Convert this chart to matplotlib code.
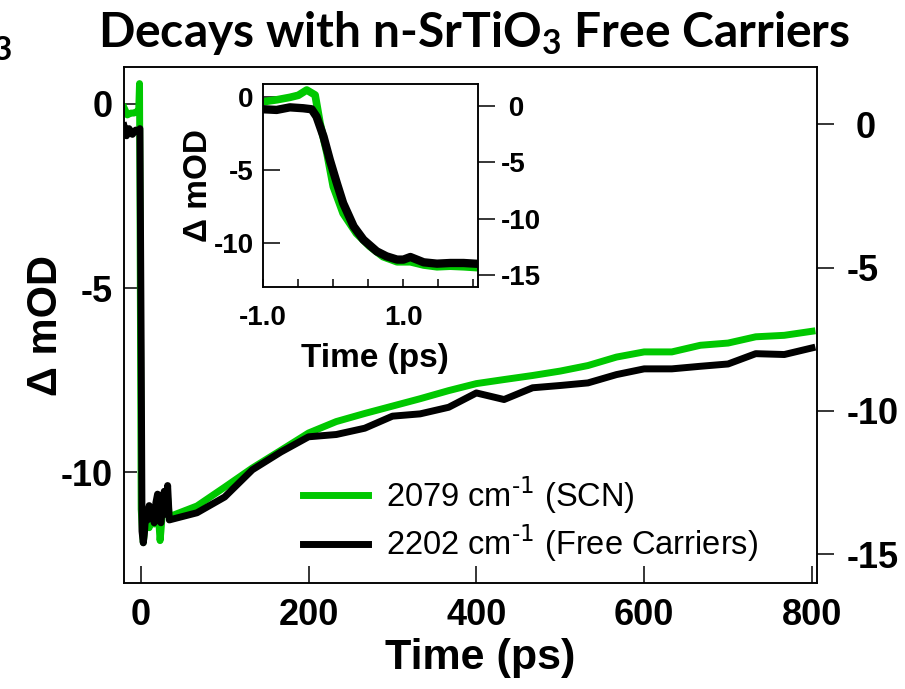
import matplotlib
matplotlib.use('Agg')
import matplotlib.pyplot as plt
from matplotlib.lines import Line2D

plt.rcParams['font.family'] = ['Liberation Sans', 'DejaVu Sans']
plt.rcParams['axes.unicode_minus'] = False
plt.rcParams['axes.linewidth'] = 1.1

GREEN = '#00c800'

# ---- long time window (ps) ----
# early part, sampled densely around time zero
t_scn_early = [-20, -16, -12, -8, -4, -2.5, -1.5, 0.5, 2, 3, 4, 5, 6, 8, 10, 12, 14, 16,
               18, 20, 22, 23, 24, 26, 28, 30, 32, 34]
scn_early = [-0.1, -0.3, -0.25, -0.25, -0.2, -0.2, 0.55, -11.0, -11.6, -11.9, -11.7, -11.3,
             -11.5, -11.2, -11.5, -11.3, -11.1, -11.4, -11.2, -11.0, -11.5, -11.85, -11.6,
             -11.0, -10.8, -11.1, -10.7, -11.2]

t_fc_early = [-20, -17, -14, -10, -6, -3, -1, 0.5, 1.5, 3, 4.5, 6, 8, 10, 12, 14, 16, 18,
              20, 22, 24, 26, 28, 30, 32, 34]
fc_early = [-0.05, -0.4, -0.15, -0.35, -0.2, -0.25, -0.15, -8.0, -14.2, -14.6, -14.2, -13.5,
            -13.8, -13.3, -13.6, -13.4, -13.9, -13.2, -12.9, -13.7, -13.9, -13.3, -12.8,
            -13.6, -12.6, -13.8]

# later part, one point every ~33 ps
t_late = [67, 100, 133, 167, 200, 233, 267, 300, 333, 367, 400, 433, 467, 500, 533, 567,
          600, 633, 667, 700, 733, 767, 800]
scn_late = [-10.91, -10.4, -9.88, -9.4, -8.93, -8.62, -8.4, -8.2, -8.0, -7.78, -7.59, -7.48,
            -7.37, -7.25, -7.1, -6.87, -6.73, -6.73, -6.55, -6.49, -6.32, -6.28, -6.17]
fc_late = [-13.55, -13.0, -12.05, -11.43, -10.9, -10.82, -10.6, -10.18, -10.1, -9.87, -9.37,
           -9.6, -9.19, -9.11, -9.02, -8.73, -8.53, -8.53, -8.44, -8.36, -8.0, -8.03, -7.8]

# ---- short time window for the inset (ps) ----
t_scn_short = [-1.0, -0.8, -0.62, -0.5, -0.38, -0.26, -0.19, -0.09, 0.0, 0.14, 0.33, 0.52,
               0.71, 0.91, 1.1, 1.29, 1.48, 1.67, 1.86, 2.02]
scn_short = [-0.34, -0.2, -0.04, 0.1, 0.46, 0.12, -1.8, -3.86, -6.13, -7.95, -9.31, -10.2,
             -10.9, -11.25, -11.25, -11.47, -11.59, -11.55, -11.59, -11.64]
t_fc_short = [-1.0, -0.81, -0.62, -0.43, -0.31, -0.24, -0.14, -0.05, 0.05, 0.14, 0.29, 0.43,
              0.62, 0.76, 0.91, 1.0, 1.1, 1.29, 1.48, 1.67, 1.86, 2.02]
fc_short = [-0.29, -0.35, -0.12, -0.2, -0.29, -0.94, -2.71, -4.77, -6.83, -8.6, -10.66,
            -11.84, -12.87, -13.31, -13.6, -13.6, -13.37, -13.84, -13.96, -13.9, -13.9, -13.96]

labels = ['2079 cm$^{\\text{-1}}$ (SCN)', '2202 cm$^{\\text{-1}}$ (Free Carriers)']
left_ticks = [0, -5, -10]
right_ticks = [0, -5, -10, -15]
right_ticklabels = [' 0', '-5', '-10', '-15']

W, H = 905, 689
fig = plt.figure(figsize=(W / 100, H / 100), dpi=100)

# main panel
ax = fig.add_axes([124 / W, 106 / H, 693 / W, 516 / H])
ax.plot(t_scn_early + t_late, scn_early + scn_late, color=GREEN, lw=5, solid_joinstyle='round')
ax.set_xlim(-20, 806)
ax.set_ylim(-13, 1)
ax.set_xticks([0, 200, 400, 600, 800])
ax.set_yticks(left_ticks)
ax.tick_params(axis='x', direction='in', length=12, width=1.1, pad=11, labelsize=26)
ax.tick_params(axis='y', direction='in', length=9, width=1.1, pad=8, labelsize=26)
for lab in ax.get_xticklabels() + ax.get_yticklabels():
    lab.set_fontweight('bold')
ax.set_xlabel('Time (ps)', fontsize=31, fontweight='bold')
ax.xaxis.set_label_coords((480 - 124) / 693, (583 - 638) / 516)
ax.set_ylabel('Δ mOD', fontsize=30, fontweight='bold')
ax.yaxis.set_label_coords((66 - 124) / 693, 0.5)

ax2 = ax.twinx()
ax2.plot(t_fc_early + t_late, fc_early + fc_late, color='black', lw=5, solid_joinstyle='round')
ax2.set_ylim(-16, 2)
ax2.set_yticks(right_ticks)
ax2.set_yticklabels(right_ticklabels)
ax2.tick_params(axis='y', direction='out', length=12, width=1.1, pad=9, labelsize=26)
for lab in ax2.get_yticklabels():
    lab.set_fontweight('bold')
    lab.set_horizontalalignment('left')

handles = [Line2D([], [], color=GREEN, lw=5), Line2D([], [], color='black', lw=5)]
ax2.legend(handles, labels, loc='upper left', bbox_to_anchor=((303 - 124) / 693, (583 - 474) / 516),
           frameon=False, fontsize=23.5, borderpad=0, borderaxespad=0, handlelength=2.0,
           handletextpad=0.55, labelspacing=0.2)

# inset: first two picoseconds
iax = fig.add_axes([263.3 / W, (H - 286.7) / H, 215 / W, 202.4 / H])
iax.set_facecolor('white')
iax.plot(t_scn_short, scn_short, color=GREEN, lw=5.5, solid_joinstyle='round')
iax.set_xlim(-1.0, 2.07)
iax.set_ylim(-12.95, 0.85)
iax.set_xticks([-1.0, -0.5, 0.0, 0.5, 1.0, 1.5, 2.0])
iax.set_xticklabels(['-1.0', '', '', '', '1.0', '', ''])
iax.set_yticks(left_ticks)
iax.tick_params(axis='x', direction='in', length=6, width=1.1, pad=13, labelsize=20)
iax.tick_params(axis='y', direction='in', length=12, width=1.1, pad=7, labelsize=20)
for lab in iax.get_xticklabels() + iax.get_yticklabels():
    lab.set_fontweight('bold')
iax.set_xlabel('Time (ps)', fontsize=24, fontweight='bold')
iax.xaxis.set_label_coords((375 - 263.3) / 215, (286.7 - 343) / 202.4)
iax.set_ylabel('Δ mOD', fontsize=24, fontweight='bold')
iax.yaxis.set_label_coords((214 - 263.3) / 215, 0.5)

iax2 = iax.twinx()
iax2.plot(t_fc_short, fc_short, color='black', lw=6, solid_joinstyle='round')
iax2.set_ylim(-16, 1.92)
iax2.set_yticks(right_ticks)
iax2.set_yticklabels(right_ticklabels)
iax2.tick_params(axis='y', direction='out', length=12, width=1.1, pad=4, labelsize=20)
for lab in iax2.get_yticklabels():
    lab.set_fontweight('bold')
    lab.set_horizontalalignment('left')

fig.text(474 / W, 1 - 47 / H, 'Decays with n-SrTiO$_\\mathregular{3}$ Free Carriers',
         family=['Lato', 'DejaVu Sans'], fontweight='bold', fontsize=34.5,
         ha='center', va='baseline')
fig.text(-7 / W, 1 - 60 / H, '3', family=['Lato', 'DejaVu Sans'], fontweight='bold',
         fontsize=24, ha='left', va='baseline')

fig.savefig('out.png', dpi=100)
